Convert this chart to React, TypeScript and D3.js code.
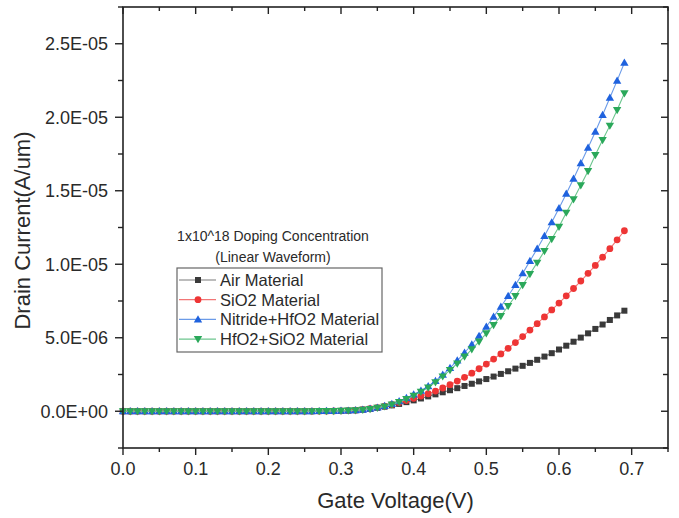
import React from "react";
import * as d3 from "d3";

// Gate voltage (V)
const voltage = [
  0.00, 0.01, 0.02, 0.03, 0.04, 0.05, 0.06, 0.07, 0.08, 0.09,
  0.10, 0.11, 0.12, 0.13, 0.14, 0.15, 0.16, 0.17, 0.18, 0.19,
  0.20, 0.21, 0.22, 0.23, 0.24, 0.25, 0.26, 0.27, 0.28, 0.29,
  0.30, 0.31, 0.32, 0.33, 0.34, 0.35, 0.36, 0.37, 0.38, 0.39,
  0.40, 0.41, 0.42, 0.43, 0.44, 0.45, 0.46, 0.47, 0.48, 0.49,
  0.50, 0.51, 0.52, 0.53, 0.54, 0.55, 0.56, 0.57, 0.58, 0.59,
  0.60, 0.61, 0.62, 0.63, 0.64, 0.65, 0.66, 0.67, 0.68, 0.69,
];

// Drain current, in units of 1e-6 A/um
const UNIT = 1e-6;
const airMaterial = [
  0, 0, 0, 0, 0, 0, 0, 0, 0, 0,
  0, 0, 0, 0, 0, 0, 0, 0, 0, 0,
  0, 0.001, 0.001, 0.002, 0.002, 0.003, 0.005, 0.007, 0.010, 0.015,
  0.025, 0.040, 0.070, 0.110, 0.160, 0.230, 0.310, 0.400, 0.500, 0.620,
  0.740, 0.870, 1.010, 1.150, 1.290, 1.430, 1.570, 1.720, 1.870, 2.030,
  2.190, 2.360, 2.540, 2.720, 2.900, 3.090, 3.290, 3.500, 3.720, 3.950,
  4.200, 4.460, 4.730, 5.010, 5.300, 5.600, 5.900, 6.210, 6.520, 6.840,
];
const sio2Material = [
  0, 0, 0, 0, 0, 0, 0, 0, 0, 0,
  0, 0, 0, 0, 0, 0, 0, 0, 0, 0,
  0, 0.001, 0.001, 0.002, 0.003, 0.004, 0.006, 0.009, 0.013, 0.019,
  0.028, 0.045, 0.072, 0.110, 0.170, 0.250, 0.350, 0.460, 0.590, 0.730,
  0.880, 1.030, 1.190, 1.370, 1.580, 1.810, 2.050, 2.310, 2.590, 2.890,
  3.210, 3.550, 3.900, 4.280, 4.670, 5.080, 5.520, 5.960, 6.420, 6.890,
  7.360, 7.850, 8.350, 8.860, 9.380, 9.920, 10.48, 11.06, 11.66, 12.28,
];
const nitrideHfO2Material = [
  0, 0, 0, 0, 0, 0, 0, 0, 0, 0,
  0, 0, 0, 0, 0, 0, 0, 0, 0, 0,
  0, 0.001, 0.001, 0.002, 0.003, 0.004, 0.006, 0.009, 0.014, 0.020,
  0.030, 0.045, 0.070, 0.110, 0.170, 0.250, 0.360, 0.500, 0.680, 0.900,
  1.140, 1.400, 1.700, 2.060, 2.480, 2.950, 3.450, 3.980, 4.540, 5.130,
  5.750, 6.430, 7.110, 7.840, 8.590, 9.380, 10.22, 11.06, 11.92, 12.85,
  13.81, 14.80, 15.82, 16.87, 17.93, 19.02, 20.15, 21.33, 22.49, 23.71,
];
const hfo2Sio2Material = [
  0, 0, 0, 0, 0, 0, 0, 0, 0, 0,
  0, 0, 0, 0, 0, 0, 0, 0, 0, 0,
  0, 0.001, 0.001, 0.002, 0.003, 0.004, 0.006, 0.009, 0.013, 0.019,
  0.028, 0.043, 0.066, 0.100, 0.155, 0.230, 0.330, 0.460, 0.630, 0.830,
  1.060, 1.320, 1.620, 1.970, 2.370, 2.800, 3.250, 3.720, 4.210, 4.740,
  5.300, 5.870, 6.480, 7.160, 7.840, 8.590, 9.340, 10.11, 10.90, 11.72,
  12.55, 13.51, 14.42, 15.37, 16.34, 17.43, 18.45, 19.43, 20.49, 21.63,
];

const seriesNames = ["Air Material", "SiO2 Material", "Nitride+HfO2 Material", "HfO2+SiO2 Material"];
const seriesValues = [airMaterial, sio2Material, nitrideHfO2Material, hfo2Sio2Material];
const seriesSymbols = ["square", "circle", "triangleUp", "triangleDown"];

const xTicks = [0.0, 0.1, 0.2, 0.3, 0.4, 0.5, 0.6, 0.7];
const xTickLabels = ["0.0", "0.1", "0.2", "0.3", "0.4", "0.5", "0.6", "0.7"];
const yTicks = [0, 5e-6, 1e-5, 1.5e-5, 2e-5, 2.5e-5];
const yTickLabels = ["0.0E+00", "5.0E-06", "1.0E-05", "1.5E-05", "2.0E-05", "2.5E-05"];
const xMinorTicks = [0.05, 0.15, 0.25, 0.35, 0.45, 0.55, 0.65, 0.75];
const yMinorTicks = [-2.5e-6, 2.5e-6, 7.5e-6, 1.25e-5, 1.75e-5, 2.25e-5, 2.75e-5];

const legendTitle = ["1x10^18 Doping Concentration", "(Linear Waveform)"];
const xTitle = "Gate Voltage(V)";
const yTitle = "Drain Current(A/um)";

const markerColors = ["#3a3a3a", "#ee3535", "#1f62de", "#2aa85a"];
const lineColors = ["#7a7a7a", "#f27676", "#6b9be8", "#6cc68e"];

const FONT = "Liberation Sans, Arial, sans-serif";

function Marker({ type, x, y, color }: { type: string; x: number; y: number; color: string }) {
  if (type === "square") return <rect x={x - 3} y={y - 3} width={6} height={6} fill={color} />;
  if (type === "circle") return <circle cx={x} cy={y} r={3.4} fill={color} />;
  if (type === "triangleUp")
    return <path d={`M${x},${y - 4.2}L${x + 4.2},${y + 3}L${x - 4.2},${y + 3}Z`} fill={color} />;
  return <path d={`M${x},${y + 4.2}L${x + 4.2},${y - 3}L${x - 4.2},${y - 3}Z`} fill={color} />;
}

export default function App() {
  const W = 679, H = 518;
  const left = 123, right = 668, top = 7, bottom = 448;
  const x = d3.scaleLinear().domain([0, 0.75]).range([left, right]);
  const y = d3.scaleLinear().domain([-2.5e-6, 2.75e-5]).range([bottom, top]);
  const line = d3
    .line<number>()
    .x((_, i) => x(voltage[i]))
    .y((d) => y(d * UNIT));

  const axisColor = "#222";
  const textColor = "#2a2a2a";

  const legendX = 177, legendY = 268, legendW = 205, legendH = 84;
  const rowH = 19.7;

  return (
    <svg width={W} height={H} style={{ position: "absolute", left: 0, top: 0, background: "#fff" }} fontFamily={FONT}>
      <rect x={0} y={0} width={W} height={H} fill="#fff" />
      {/* series */}
      {seriesValues.map((vals, si) => (
        <g key={si}>
          <path d={line(vals) || ""} fill="none" stroke={lineColors[si]} strokeWidth={1.1} />
          {vals.map((v, i) => (
            <Marker key={i} type={seriesSymbols[si]} x={x(voltage[i])} y={y(v * UNIT)} color={markerColors[si]} />
          ))}
        </g>
      ))}

      {/* frame */}
      <rect x={left} y={top} width={right - left} height={bottom - top} fill="none" stroke={axisColor} strokeWidth={1.6} />

      {/* bottom axis */}
      {xTicks.map((t, i) => (
        <g key={"xb" + i}>
          <line x1={x(t)} x2={x(t)} y1={bottom} y2={bottom + 7} stroke={axisColor} strokeWidth={1.4} />
          <line x1={x(t)} x2={x(t)} y1={top} y2={top + 7} stroke={axisColor} strokeWidth={1.4} />
          <text x={x(t)} y={475} textAnchor="middle" fontSize={18} fill={textColor}>
            {xTickLabels[i]}
          </text>
        </g>
      ))}
      {xMinorTicks.map((t, i) => (
        <g key={"xm" + i}>
          <line x1={x(t)} x2={x(t)} y1={bottom} y2={bottom + 4} stroke={axisColor} strokeWidth={1.4} />
          <line x1={x(t)} x2={x(t)} y1={top} y2={top + 4} stroke={axisColor} strokeWidth={1.4} />
        </g>
      ))}

      {/* left axis */}
      {yTicks.map((t, i) => (
        <g key={"yl" + i}>
          <line x1={left - 8} x2={left} y1={y(t)} y2={y(t)} stroke={axisColor} strokeWidth={1.4} />
          <line x1={right - 7} x2={right} y1={y(t)} y2={y(t)} stroke={axisColor} strokeWidth={1.4} />
          <text x={108} y={y(t)} dy="0.35em" textAnchor="end" fontSize={18} fill={textColor}>
            {yTickLabels[i]}
          </text>
        </g>
      ))}
      {yMinorTicks.map((t, i) => (
        <g key={"ym" + i}>
          <line x1={left - 5} x2={left} y1={y(t)} y2={y(t)} stroke={axisColor} strokeWidth={1.4} />
          <line x1={right - 5} x2={right} y1={y(t)} y2={y(t)} stroke={axisColor} strokeWidth={1.4} />
        </g>
      ))}

      {/* titles */}
      <text x={(left + right) / 2} y={508} textAnchor="middle" fontSize={22} fill={textColor}>
        {xTitle}
      </text>
      <text
        transform={`translate(30,${(top + bottom) / 2 + 3}) rotate(-90)`}
        textAnchor="middle"
        fontSize={22}
        fill={textColor}
      >
        {yTitle}
      </text>

      {/* legend */}
      <text x={273} y={241} textAnchor="middle" fontSize={14} fill={textColor}>
        {legendTitle[0]}
      </text>
      <text x={273} y={262} textAnchor="middle" fontSize={14} fill={textColor}>
        {legendTitle[1]}
      </text>
      <rect x={legendX} y={legendY} width={legendW} height={legendH} fill="#fff" stroke="#666" strokeWidth={1.2} />
      {seriesNames.map((name, i) => {
        const cy = 280 + i * rowH;
        return (
          <g key={"lg" + i}>
            <line x1={179} x2={216} y1={cy} y2={cy} stroke={lineColors[i]} strokeWidth={1.2} />
            <Marker type={seriesSymbols[i]} x={198} y={cy} color={markerColors[i]} />
            <text x={220} y={cy} dy="0.36em" fontSize={16.5} fill={textColor}>
              {name}
            </text>
          </g>
        );
      })}
    </svg>
  );
}
